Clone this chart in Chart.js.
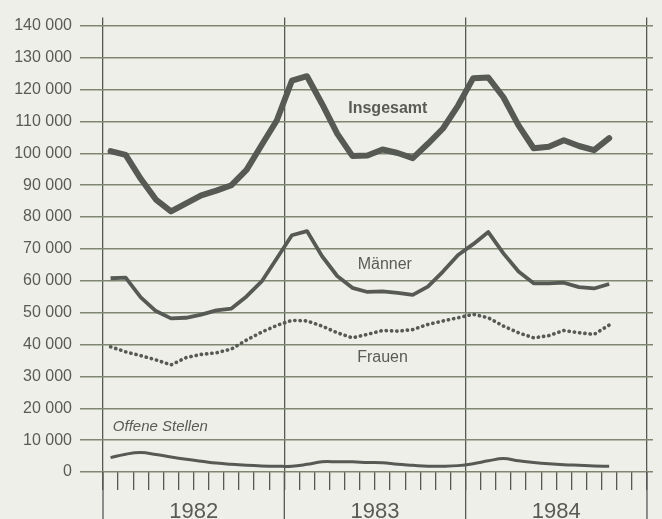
<!DOCTYPE html>
<html><head><meta charset="utf-8">
<script src="https://cdn.jsdelivr.net/npm/chart.js@4/dist/chart.umd.min.js"></script>
<style>
html,body{margin:0;padding:0;background:#efefea;}
#wrap{width:662px;height:519px;position:relative;}
</style></head><body>
<div id="wrap"><canvas id="c" width="662" height="519"></canvas></div>
<script>
// Years on the x axis (each year = 12 months)
const years = ['1982', '1983', '1984'];
// Monthly values, Jan 1982 .. Oct 1984 (34 months)
const insgesamt = [100700, 99500, 92000, 85500, 81800, 84300, 86800, 88300, 90000, 94800, 102600, 110300,
                   122800, 124200, 115500, 106200, 99200, 99300, 101200, 100100, 98500, 103000, 107800, 115000,
                   123600, 123800, 117600, 108800, 101600, 102100, 104100, 102300, 101000, 104800];
const maenner = [60800, 61000, 54800, 50500, 48200, 48400, 49400, 50700, 51300, 55100, 59800, 67000,
                 74300, 75600, 67700, 61500, 57800, 56500, 56700, 56200, 55600, 58200, 62900, 68100,
                 71500, 75300, 68600, 62900, 59200, 59200, 59400, 58000, 57600, 59000];
const frauen = [39300, 37700, 36500, 35200, 33600, 35900, 36900, 37400, 38600, 41400, 43900, 46000,
                47600, 47400, 45800, 43700, 42100, 43200, 44400, 44200, 44700, 46300, 47400, 48400,
                49500, 48400, 45800, 43700, 42100, 42800, 44400, 43700, 43200, 46100];
const offeneStellen = [4500, 5600, 6100, 5500, 4700, 4000, 3400, 2800, 2400, 2100, 1900, 1800,
                       1800, 2400, 3200, 3200, 3200, 3000, 2900, 2400, 2100, 1800, 1800, 2000,
                       2600, 3500, 4200, 3500, 3000, 2600, 2300, 2100, 1900, 1800];
const yTicks = [0, 10000, 20000, 30000, 40000, 50000, 60000, 70000, 80000, 90000, 100000, 110000, 120000, 130000, 140000];
// Series labels drawn inside the chart: [text, month, value]
const seriesNotes = [
  ['Insgesamt', 18.85, 114100, 'bold', 'center'],
  ['Männer', 18.65, 65000, 'normal', 'center'],
  ['Frauen', 18.5, 35800, 'normal', 'center'],
  ['Offene Stellen', 0.65, 14100, 'italic', 'left']
];

const FONT = "'Liberation Sans', Arial, Helvetica, sans-serif";
const LINE = '#575955';
const GRID = '#7f8770';
const TXT = '#5a5b57';

const toXY = arr => arr.map((v, i) => ({x: i + 0.5, y: v}));
const fmt = v => String(v).replace(/\B(?=(\d{3})+(?!\d))/g, ' ');

const extras = {
  id: 'extras',
  afterDraw(chart) {
    const ctx = chart.ctx, xs = chart.scales.x, ys = chart.scales.y, ca = chart.chartArea;
    ctx.save();
    // year separators continue down past the tick marks
    ctx.strokeStyle = LINE; ctx.lineWidth = 1.3;
    for (let k = 0; k <= years.length; k++) {
      const px = xs.getPixelForValue(k * 12);
      ctx.beginPath(); ctx.moveTo(px, ca.bottom); ctx.lineTo(px, chart.height); ctx.stroke();
    }
    // series labels
    ctx.fillStyle = TXT; ctx.textBaseline = 'middle';
    seriesNotes.forEach(([t, m, v, st, al]) => {
      const w = st === 'bold' ? 'bold ' : (st === 'italic' ? 'italic ' : '');
      ctx.font = w + (st === 'italic' ? '15px ' : '16px ') + FONT;
      ctx.textAlign = al;
      ctx.fillText(t, xs.getPixelForValue(m), ys.getPixelForValue(v));
    });
    ctx.restore();
  }
};

new Chart(document.getElementById('c'), {
  type: 'line',
  data: {
    datasets: [
      {label: 'Insgesamt', data: toXY(insgesamt), borderColor: LINE, borderWidth: 6, pointRadius: 0, borderJoinStyle: 'round', borderCapStyle: 'round', tension: 0},
      {label: 'Männer', data: toXY(maenner), borderColor: LINE, borderWidth: 3.8, pointRadius: 0, borderJoinStyle: 'round', tension: 0},
      {label: 'Frauen', data: toXY(frauen), borderColor: LINE, borderWidth: 3.6, pointRadius: 0, borderDash: [0.3, 5], borderCapStyle: 'round', tension: 0},
      {label: 'Offene Stellen', data: toXY(offeneStellen), borderColor: LINE, borderWidth: 3, pointRadius: 0, tension: 0.4}
    ]
  },
  options: {
    responsive: false,
    devicePixelRatio: 1,
    animation: false,
    layout: {padding: {top: 13, right: 9, left: 0, bottom: 0}},
    plugins: {legend: {display: false}, tooltip: {enabled: false}},
    scales: {
      x: {
        type: 'linear', min: 0, max: 36.4,
        afterBuildTicks: s => { s.ticks = Array.from({length: years.length * 12 + 1}, (_, i) => ({value: i})); },
        afterFit: s => { s.height = 47; },
        border: {display: false},
        grid: {
          drawOnChartArea: true,
          color: c => (c.tick && c.tick.value % 12 === 0) ? LINE : 'rgba(0,0,0,0)',
          lineWidth: 1.3,
          tickColor: LINE, tickLength: 18, tickWidth: 1.3
        },
        ticks: {
          autoSkip: false, maxRotation: 0, padding: 9,
          color: TXT, font: {family: FONT, size: 22},
          callback: v => (v % 12 === 6) ? years[(v - 6) / 12] : ''
        }
      },
      y: {
        min: 0, max: 142600,
        afterBuildTicks: s => { s.ticks = yTicks.map(v => ({value: v})); },
        afterFit: s => { s.width = 103; },
        border: {display: false},
        grid: {color: GRID, lineWidth: 1.5, tickLength: 23, tickColor: GRID},
        ticks: {padding: 8, color: TXT, font: {family: FONT, size: 16}, callback: v => fmt(v)}
      }
    }
  },
  plugins: [extras]
});
</script>
</body></html>
